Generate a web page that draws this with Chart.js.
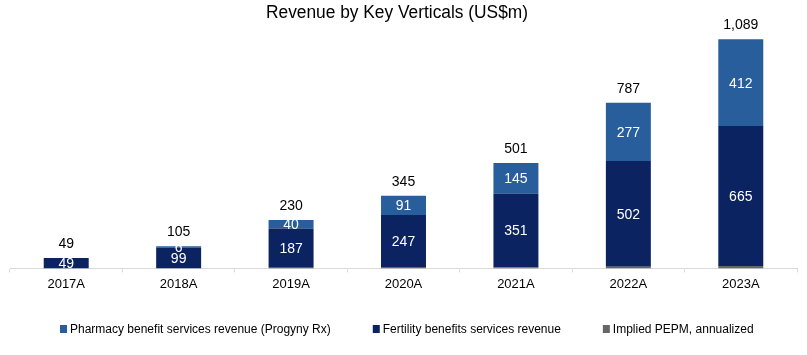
<!DOCTYPE html>
<html><head><meta charset="utf-8">
<script src="https://cdn.jsdelivr.net/npm/chart.js@4/dist/chart.umd.min.js"></script>
<style>html,body{margin:0;padding:0;background:#fff}</style></head>
<body><canvas id="c" width="807" height="355"></canvas>
<script>
const categories = ['2017A','2018A','2019A','2020A','2021A','2022A','2023A'];
const pharmacy  = [0, 6, 40, 91, 145, 277, 412];
const fertility = [49, 99, 187, 247, 351, 502, 665];
const pepm      = [0, 0, 3, 7, 5, 8, 12];
const totals    = [49, 105, 230, 345, 501, 787, 1089];
const titleText = 'Revenue by Key Verticals (US$m)';
const seriesNames = ['Pharmacy benefit services revenue (Progyny Rx)','Fertility benefits services revenue','Implied PEPM, annualized'];

const SANS = "'Liberation Sans',Arial,sans-serif";
const COL_LIGHT = '#295E9C', COL_DARK = '#0B2461', COL_GREY = '#666666';

function narrowText(ctx, text, x, y, sx, align) {
  ctx.save();
  ctx.translate(x, y);
  ctx.scale(sx, 1);
  ctx.textAlign = align;
  ctx.fillText(text, 0, 0);
  ctx.restore();
  return ctx.measureText(text).width * sx;
}

const labelPlugin = {
  id: 'labels',
  afterDatasetsDraw(chart) {
    const ctx = chart.ctx;
    ctx.save();
    ctx.textAlign = 'center';
    ctx.textBaseline = 'middle';
    ctx.font = "14px " + SANS;
    chart.data.datasets.forEach((ds, di) => {
      if (!ds.showLabels) return;
      const meta = chart.getDatasetMeta(di);
      meta.data.forEach((bar, i) => {
        const v = ds.data[i];
        if (!v) return;
        const p = bar.getProps(['x','y','base'], true);
        ctx.fillStyle = '#ffffff';
        ctx.fillText(String(v), p.x, (p.y + p.base) / 2 + 1);
      });
    });
    const top = chart.getDatasetMeta(chart.data.datasets.length - 1);
    const ys = chart.scales.y;
    ctx.fillStyle = '#000000';
    totals.forEach((t, i) => {
      ctx.fillText(t.toLocaleString('en-US'), top.data[i].x, ys.getPixelForValue(t) - 14);
    });
    ctx.restore();
  },
  afterDraw(chart) {
    const ctx = chart.ctx;
    ctx.save();
    ctx.fillStyle = '#000';
    ctx.textBaseline = 'middle';
    ctx.font = "18px " + SANS;
    const tw = ctx.measureText(titleText).width;
    narrowText(ctx, titleText, 397, 13, Math.min(1, 262 / tw), 'center');
    ctx.font = "12px " + SANS;
    const items = chart.data.datasets.slice().reverse();
    let x = 60;
    const y = 329;
    items.forEach(ds => {
      ctx.fillStyle = ds.backgroundColor;
      ctx.fillRect(x, y - 4, 7, 8);
      ctx.fillStyle = '#000';
      const w = narrowText(ctx, ds.label, x + 10, y + 1, 1, 'left');
      x += 10 + w + 42;
    });
    ctx.restore();
  }
};

new Chart(document.getElementById('c'), {
  type: 'bar',
  data: {
    labels: categories,
    datasets: [
      { label: seriesNames[2], data: pepm, backgroundColor: COL_GREY, showLabels: false },
      { label: seriesNames[1], data: fertility, backgroundColor: COL_DARK, showLabels: true },
      { label: seriesNames[0], data: pharmacy, backgroundColor: COL_LIGHT, showLabels: true }
    ]
  },
  options: {
    responsive: false,
    animation: false,
    layout: { padding: { left: 10, right: 10, top: 37, bottom: 59 } },
    datasets: { bar: { categoryPercentage: 1, barPercentage: 0.4 } },
    plugins: { legend: { display: false }, title: { display: false }, tooltip: { enabled: false } },
    scales: {
      x: {
        stacked: true,
        grid: { display: true, drawOnChartArea: false, drawTicks: true, tickLength: 4, color: '#d9d9d9' },
        border: { display: true, color: '#d9d9d9' },
        ticks: { color: '#000', font: { family: SANS, size: 13 }, padding: 4 }
      },
      y: { stacked: true, display: false, min: 0, max: 1100 }
    }
  },
  plugins: [labelPlugin]
});
</script>
</body></html>
